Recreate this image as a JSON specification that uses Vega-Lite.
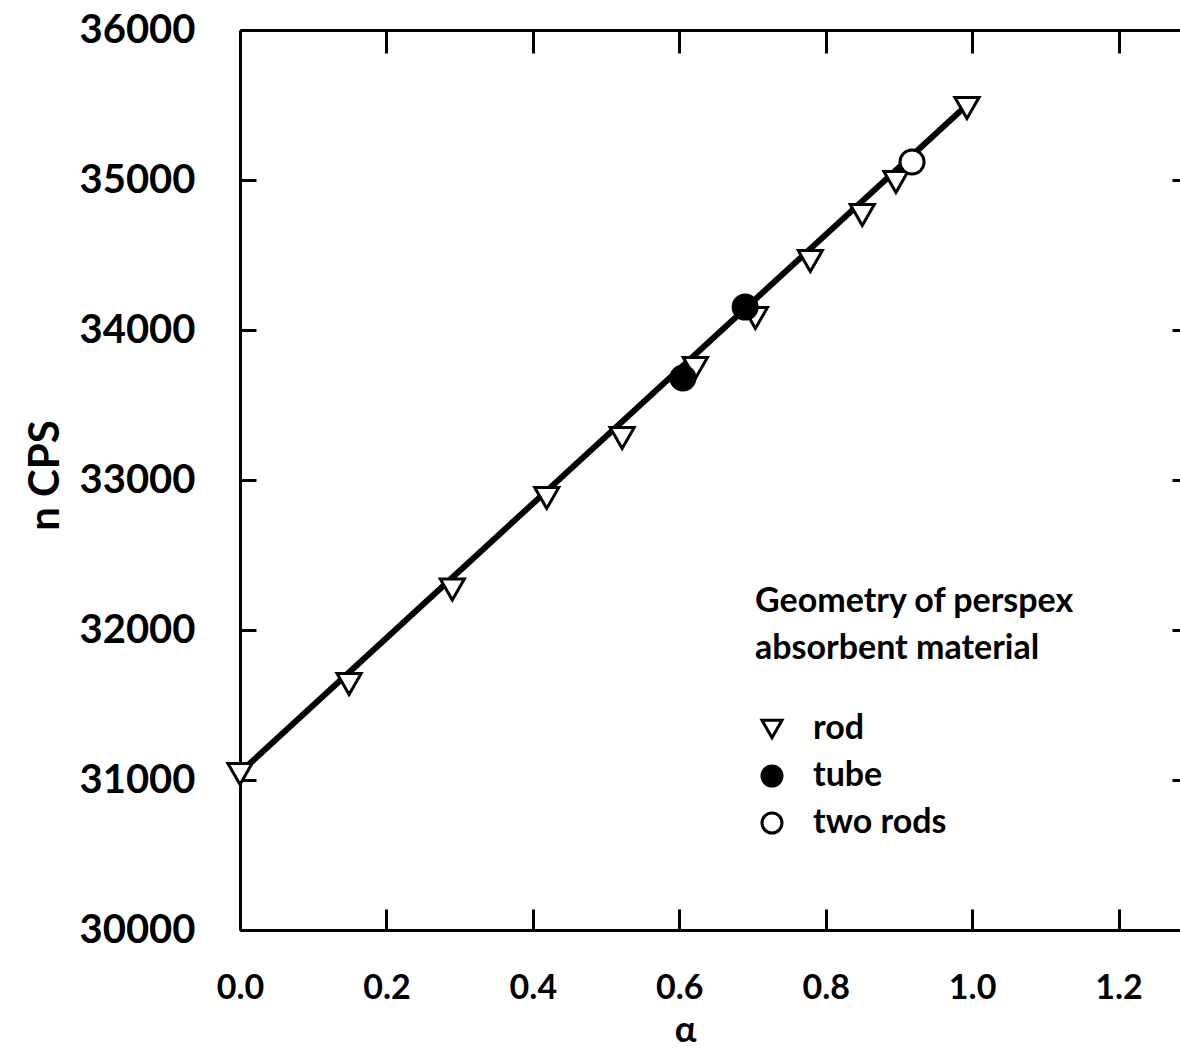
{
  "$schema": "https://vega.github.io/schema/vega-lite/v6.json",
  "width": 940,
  "height": 900,
  "autosize": {"type": "none"},
  "padding": {"left": 240, "top": 30, "right": 0, "bottom": 119},
  "background": "white",
  "config": {
    "view": {"stroke": null},
    "font": "Lato",
    "axis": {
      "domainColor": "black",
      "domainWidth": 3,
      "tickColor": "black",
      "tickWidth": 3,
      "grid": false,
      "labelFlush": false,
      "labelOverlap": false,
      "labelFont": "Lato",
      "labelFontWeight": "bold",
      "labelColor": "black",
      "titleFont": "Lato",
      "titleFontWeight": "bold",
      "titleColor": "black"
    },
    "legend": {
      "titleFont": "Lato",
      "labelFont": "Lato",
      "orient": "none",
      "legendX": 515,
      "legendY": 555,
      "titleFontSize": 34,
      "titleFontWeight": "bold",
      "titleLineHeight": 47,
      "titleColor": "black",
      "titleLimit": 600,
      "titlePadding": 46,
      "labelFontSize": 34,
      "labelFontWeight": "bold",
      "labelColor": "black",
      "labelLimit": 400,
      "labelOffset": 24,
      "rowPadding": 13,
      "symbolSize": 400,
      "symbolStrokeWidth": 3,
      "symbolStrokeColor": "black",
      "symbolOffset": 0
    }
  },
  "datasets": {
    "fit": [
      {"alpha": 0.0, "cps": 31050},
      {"alpha": 0.993, "cps": 35500}
    ],
    "obs": [
      {"alpha": 0.0, "cps": 31040, "geometry": "rod"},
      {"alpha": 0.149, "cps": 31640, "geometry": "rod"},
      {"alpha": 0.29, "cps": 32270, "geometry": "rod"},
      {"alpha": 0.419, "cps": 32880, "geometry": "rod"},
      {"alpha": 0.522, "cps": 33280, "geometry": "rod"},
      {"alpha": 0.622, "cps": 33747, "geometry": "rod"},
      {"alpha": 0.704, "cps": 34080, "geometry": "rod"},
      {"alpha": 0.779, "cps": 34460, "geometry": "rod"},
      {"alpha": 0.85, "cps": 34767, "geometry": "rod"},
      {"alpha": 0.896, "cps": 34987, "geometry": "rod"},
      {"alpha": 0.993, "cps": 35480, "geometry": "rod"},
      {"alpha": 0.605, "cps": 33680, "geometry": "tube"},
      {"alpha": 0.69, "cps": 34153, "geometry": "tube"},
      {"alpha": 0.918, "cps": 35120, "geometry": "two rods"}
    ]
  },
  "layer": [
    {
      "data": {"name": "fit"},
      "mark": {"type": "line", "color": "black", "strokeWidth": 6},
      "encoding": {
        "x": {
          "field": "alpha", "type": "quantitative",
          "scale": {"domain": [0, 1.284], "nice": false, "zero": false},
          "axis": {
            "orient": "bottom",
            "values": [0, 0.2, 0.4, 0.6, 0.8, 1.0, 1.2],
            "format": ".1f",
            "tickSize": -21,
            "labelPadding": 62,
            "labelFontSize": 34,
            "labelBaseline": "top",
            "title": "α",
            "titleFontSize": 36,
            "titleX": 445,
            "titleY": 100,
            "titleAlign": "center",
            "titleBaseline": "middle"
          }
        },
        "y": {
          "field": "cps", "type": "quantitative",
          "scale": {"domain": [30000, 36000], "nice": false, "zero": false},
          "axis": {
            "orient": "left",
            "values": [30000, 31000, 32000, 33000, 34000, 35000, 36000],
            "format": "d",
            "tickSize": -16,
            "labelPadding": 61,
            "labelFontSize": 40,
            "title": "n CPS",
            "titleFontSize": 42,
            "titleAngle": 270,
            "titleX": -195,
            "titleY": 445,
            "titleAlign": "center",
            "titleBaseline": "middle"
          }
        }
      }
    },
    {
      "data": {"name": "obs"},
      "mark": {"type": "point", "filled": true, "strokeWidth": 3, "opacity": 1, "size": 580},
      "encoding": {
        "x": {
          "field": "alpha", "type": "quantitative",
          "axis": {
            "orient": "top",
            "values": [0.2, 0.4, 0.6, 0.8, 1.0, 1.2],
            "labels": false,
            "title": null,
            "tickSize": -23
          }
        },
        "y": {
          "field": "cps", "type": "quantitative",
          "axis": {
            "orient": "right",
            "values": [31000, 32000, 33000, 34000, 35000],
            "labels": false,
            "title": null,
            "domain": false,
            "tickSize": -8
          }
        },
        "shape": {
          "field": "geometry", "type": "nominal",
          "scale": {"domain": ["rod", "tube", "two rods"], "range": ["triangle-down", "circle", "circle"]},
          "title": ["Geometry of perspex", "absorbent material"]
        },
        "fill": {
          "field": "geometry", "type": "nominal",
          "scale": {"domain": ["rod", "tube", "two rods"], "range": ["white", "black", "white"]},
          "title": ["Geometry of perspex", "absorbent material"]
        },
        "stroke": {
          "field": "geometry", "type": "nominal",
          "scale": {"domain": ["rod", "tube", "two rods"], "range": ["black", "black", "black"]},
          "title": ["Geometry of perspex", "absorbent material"]
        }
      }
    }
  ],
  "resolve": {"axis": {"x": "independent", "y": "independent"}}
}
